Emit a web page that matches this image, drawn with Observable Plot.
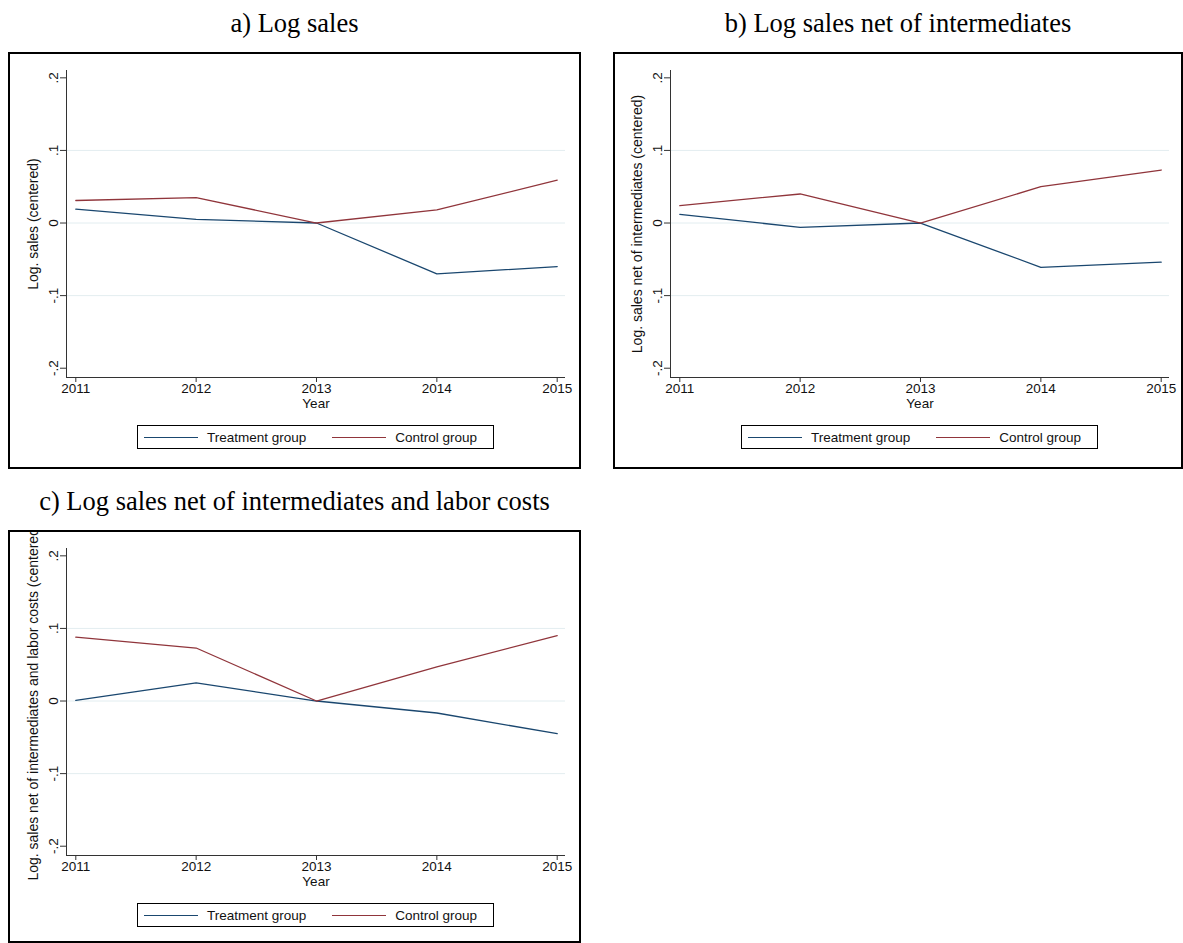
<!DOCTYPE html>
<html><head><meta charset="utf-8">
<script src="https://cdn.jsdelivr.net/npm/d3@7"></script>
<script src="https://cdn.jsdelivr.net/npm/@observablehq/plot@0.6"></script>
<style>
body{margin:0;background:#fff;width:1183px;height:943px;position:relative;overflow:hidden;font-family:"Liberation Sans",Arial,sans-serif}
.title{position:absolute;font-family:"Liberation Serif","Times New Roman",serif;font-size:26.5px;line-height:26.5px;text-align:center;color:#000;white-space:nowrap}
.panel{position:absolute;background:#fff}
.panel svg{position:absolute;left:0;top:0}
.frame{position:absolute;left:0;top:0;right:0;bottom:0;border:2px solid #000;box-sizing:border-box;pointer-events:none}
.legend{position:absolute;height:24px;border:1px solid #000;box-sizing:border-box;display:flex;align-items:center;font-size:13.5px;color:#111;background:#fff;white-space:nowrap}
.sw{display:inline-block;width:54px;height:0;border-top:1.3px solid}
</style></head><body>
<script>
const years = [2011, 2012, 2013, 2014, 2015];
const groups = ["Treatment group", "Control group"];
const colors = ["#1a476f", "#90353b"];
const yTicks = [-0.2, -0.1, 0, 0.1, 0.2];
const gridTicks = [-0.1, 0, 0.1];
const titles = ["a) Log sales", "b) Log sales net of intermediates", "c) Log sales net of intermediates and labor costs"];
const yLabels = ["Log. sales (centered)", "Log. sales net of intermediates (centered)", "Log. sales net of intermediates and labor costs (centered)"];
const xLabel = "Year";

const treatA   = [0.019, 0.005, 0, -0.070, -0.060];
const controlA = [0.031, 0.035, 0, 0.018, 0.059];
const treatB   = [0.012, -0.006, 0, -0.061, -0.054];
const controlB = [0.024, 0.040, 0, 0.050, 0.073];
const treatC   = [0.001, 0.025, 0, -0.0165, -0.045];
const controlC = [0.088, 0.073, 0, 0.047, 0.090];

const xDomain = [2010.9227, 2015.069];
const yDomain = [-0.2128, 0.2101];

const layouts = [
  {left: 8, top: 52, width: 573, height: 417, ml: 58, mr: 16, legLeft: 129},
  {left: 613, top: 52, width: 570, height: 417, ml: 57, mr: 14, legLeft: 128},
  {left: 8, top: 530, width: 573, height: 413, ml: 58, mr: 16, legLeft: 129}
];
const series = [[treatA, controlA], [treatB, controlB], [treatC, controlC]];

const fmt = d => d === 0 ? "0" : String(d).replace("0.", ".");
const font = '"Liberation Sans", Arial, sans-serif';

layouts.forEach((L, idx) => {
  const [treat, control] = series[idx];
  const data = years.flatMap((yr, i) => [
    {year: yr, value: treat[i], group: groups[0]},
    {year: yr, value: control[i], group: groups[1]}
  ]);

  const title = document.createElement("div");
  title.className = "title";
  title.style.left = L.left + "px";
  title.style.width = L.width + "px";
  title.style.top = (L.top - 42) + "px";
  title.textContent = titles[idx];
  document.body.appendChild(title);

  const panel = document.createElement("div");
  panel.className = "panel";
  panel.style.left = L.left + "px";
  panel.style.top = L.top + "px";
  panel.style.width = L.width + "px";
  panel.style.height = L.height + "px";

  const chart = Plot.plot({
    width: L.width,
    height: 370,
    marginLeft: L.ml,
    marginRight: L.mr,
    marginTop: 18,
    marginBottom: 45,
    x: {domain: xDomain},
    y: {domain: yDomain},
    color: {domain: groups, range: colors},
    style: {fontFamily: font, fontSize: "13.5px", color: "#111", overflow: "hidden", background: "transparent"},
    marks: [
      Plot.ruleY(gridTicks, {stroke: "#e3edf0", strokeWidth: 1}),
      Plot.ruleY([yDomain[0]], {stroke: "#333", strokeWidth: 1}),
      Plot.ruleX([xDomain[0]], {stroke: "#333", strokeWidth: 1}),
      Plot.axisY(yTicks, {tickSize: 6, tickPadding: 3, tickRotate: -90, tickFormat: fmt, label: null, stroke: "#333"}),
      Plot.axisX(years, {tickSize: 5, tickPadding: 1, tickFormat: d => String(d), label: null, stroke: "#333"}),
      Plot.lineY(data, {x: "year", y: "value", stroke: "group", strokeWidth: 1.3}),
      Plot.text([yLabels[idx]], {frameAnchor: "left", rotate: -90, dx: -33, textAnchor: "middle", fontSize: 14, fill: "#111"}),
      Plot.text([xLabel], {frameAnchor: "bottom", dy: 30, fontSize: 13.5, fill: "#111"})
    ]
  });
  panel.appendChild(chart);

  const legend = document.createElement("div");
  legend.className = "legend";
  legend.style.left = L.legLeft + "px";
  legend.style.top = "373px";
  legend.style.width = "357px";
  groups.forEach((g, i) => {
    const sw = document.createElement("span");
    sw.className = "sw";
    sw.style.borderTopColor = colors[i];
    sw.style.marginLeft = i === 0 ? "6px" : "26px";
    const tx = document.createElement("span");
    tx.textContent = g;
    tx.style.marginLeft = "9px";
    legend.appendChild(sw);
    legend.appendChild(tx);
  });
  panel.appendChild(legend);

  const frame = document.createElement("div");
  frame.className = "frame";
  panel.appendChild(frame);
  document.body.appendChild(panel);
});
</script>
</body></html>
